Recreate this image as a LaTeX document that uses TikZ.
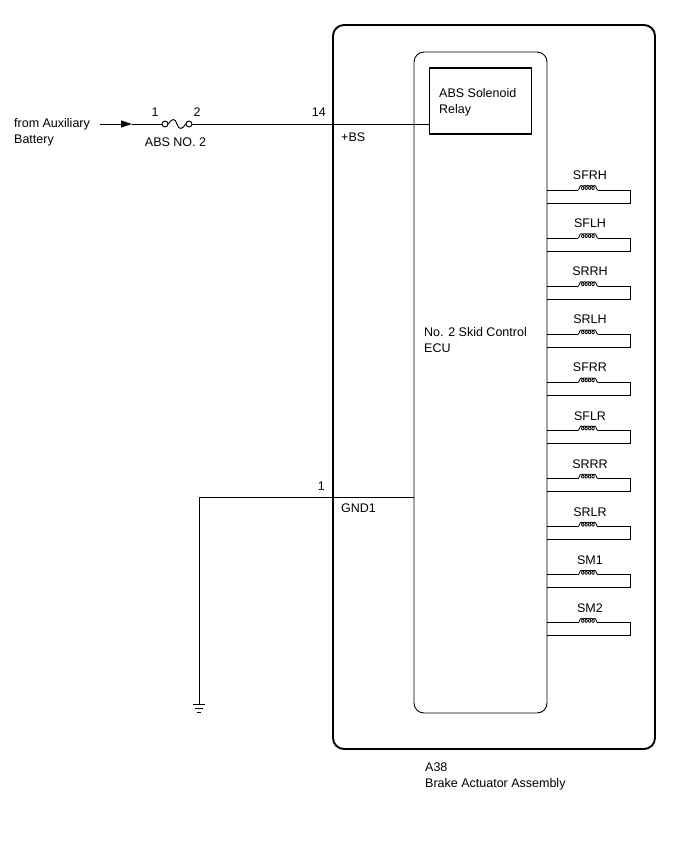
\documentclass[tikz,border=0pt]{standalone}
\usepackage{fontspec}
\setmainfont{Liberation Sans}
\usetikzlibrary{arrows.meta}
\begin{document}
\begin{tikzpicture}[x=1pt,y=-1pt,
  lbl/.style={inner sep=0pt,font=\fontsize{12.5}{14}\selectfont},
  wire/.style={line width=0.9pt},
  coilline/.style={line width=0.8pt},
  thickbox/.style={line width=1.9pt,rounded corners=11pt},
  ecubox/.style={line width=0.9pt,rounded corners=10pt},
  relaybox/.style={line width=1.6pt}]
\useasboundingbox (0,0) rectangle (688,852);
% boxes
\draw[thickbox] (333,25) rectangle (655,749);
\draw[ecubox] (414,52) rectangle (547,713);
\node[relaybox,draw,minimum width=102pt,minimum height=66pt,inner sep=0pt] (relay) at (480.5,101) {};
\node[lbl,anchor=base west] (relaytxt1) at (439,97) {ABS Solenoid};
\node[lbl,anchor=base west] (relaytxt2) at (439,113) {Relay};
\node[lbl,anchor=base west] (ecutxt1) at (424,336) {No. 2 Skid Control};
\node[lbl,anchor=base west] (ecutxt2) at (424,352) {ECU};
\node[lbl,anchor=base west] (a38) at (425,771) {A38};
\node[lbl,anchor=base west] (asm) at (425,787) {Brake Actuator Assembly};
% battery input
\node[lbl,anchor=base west] (src1) at (14,127) {from Auxiliary};
\node[lbl,anchor=base west] (src2) at (14,143) {Battery};
\coordinate (wstart) at (100,124);
\coordinate (atip) at (132,124);
\node[draw,circle,inner sep=0pt,minimum size=6pt,line width=0.9pt] (f1) at (165,124) {};
\node[draw,circle,inner sep=0pt,minimum size=6pt,line width=0.9pt] (f2) at (189,124) {};
\draw[wire,-{Triangle[length=11pt,width=7pt]}] (wstart) -- (atip);
\draw[wire] (atip) -- (f1.west);
\draw[wire] (f1.east) .. controls (172,118) and (175,118) .. (177,124) .. controls (179,130) and (182,130) .. (f2.west);
\draw[wire] (f2.east) -- (relay.west |- f2.east);
\node[lbl,anchor=base] (p1) at (155,116) {1};
\node[lbl,anchor=base] (p2) at (197,116) {2};
\node[lbl,anchor=base] (fuse) at (175.5,146) {ABS NO. 2};
\node[lbl,anchor=base east] (p14) at (326,116) {14};
\node[lbl,anchor=base west] (bs) at (341,141) {+BS};
% ground
\coordinate (ecugnd) at (414,497);
\coordinate (gcorner) at (199,497);
\coordinate (gnd) at (199,704);
\draw[wire] (ecugnd) -- (gcorner) -- (gnd);
\draw[line width=0.9pt] ([xshift=-6pt]gnd) -- ([xshift=6pt]gnd);
\draw[line width=0.9pt] ([xshift=-4pt,yshift=-4pt]gnd) -- ([xshift=4pt,yshift=-4pt]gnd);
\draw[line width=0.9pt] ([xshift=-2pt,yshift=-8pt]gnd) -- ([xshift=2pt,yshift=-8pt]gnd);
\node[lbl,anchor=base east] (g1) at (325,490) {1};
\node[lbl,anchor=base west] (gnd1) at (341,512) {GND1};
% loads
\foreach \name [count=\i from 0] in {SFRH,SFLH,SRRH,SRLH,SFRR,SFLR,SRRR,SRLR,SM1,SM2}{
  \pgfmathsetmacro{\yt}{190+48.1*\i}
  \pgfmathsetmacro{\yb}{\yt+13}
  \pgfmathsetmacro{\yl}{\yt-10.5}
  \node[lbl,anchor=base] (L\i) at (590,\yl) {\name};
  \coordinate (La\i) at (547,\yt);
  \coordinate (Lb\i) at (578,\yt);
  \coordinate (Lc\i) at (598,\yt);
  \coordinate (Ld\i) at (630,\yt);
  \coordinate (Le\i) at (630,\yb);
  \coordinate (Lf\i) at (547,\yb);
  \draw[wire] (La\i) -- (Lb\i);
  \begin{scope}[shift={(Lb\i)},x=1pt,y=1pt]
    \draw[coilline] (0,0) .. controls (1.5,0) and (1.5,4.4) .. (3,4.4)
      plot[domain=180:1620,samples=160,smooth] ({3+0.55*(\x-180)*pi/180-1.9*sin(\x)},{2.5-1.9*cos(\x)})
      .. controls (18.3,4.4) and (18.3,0) .. (20,0);
  \end{scope}
  \draw[wire] (Lc\i) -- (Ld\i) -- (Le\i) -- (Lf\i);
}
\end{tikzpicture}
\end{document}
